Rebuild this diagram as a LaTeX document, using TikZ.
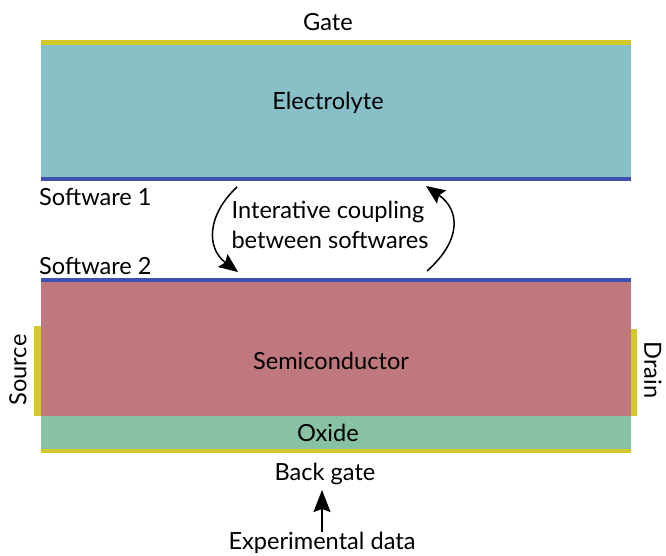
\documentclass[tikz,border=0pt]{standalone}
\usepackage{fontspec}
\setmainfont{Lato}
\usetikzlibrary{arrows.meta}
\definecolor{gatey}{HTML}{D4C92A}
\definecolor{elec}{HTML}{88C0C8}
\definecolor{swblue}{HTML}{3F51B0}
\definecolor{semi}{HTML}{BF787E}
\definecolor{oxid}{HTML}{88C2A5}
\begin{document}
\begin{tikzpicture}[x=1pt,y=-1pt,
  lbl/.style={font=\fontsize{23.6}{28}\selectfont, inner sep=0pt, text=black},
  layer/.style={draw=none, inner sep=0pt, minimum width=590pt},
  metal/.style={fill=gatey, draw=none, inner sep=0pt},
  swline/.style={fill=swblue, draw=none, inner sep=0pt, minimum width=590pt, minimum height=4pt},
  arr/.style={line width=1.5pt, -{Stealth[length=19pt,width=16pt,inset=3pt]}}]
\useasboundingbox (0,0) rectangle (666,555);
% gate
\node[lbl] (gatelbl) at (328,22) {Gate};
\node[metal, minimum width=590pt, minimum height=5pt] (gate) at (336,42) {};
\node[layer, fill=elec, minimum height=133pt] (elec) at (336,111.5) {};
\node[lbl] (eleclbl) at (328,103) {Electrolyte};
\node[swline] (sw1) at (336,179) {};
\node[lbl, anchor=west] (sw1lbl) at (39,197) {Software 1};
\node[lbl, anchor=west] (sw2lbl) at (39,266) {Software 2};
\node[swline] (sw2) at (336,280) {};
\node[layer, fill=semi, minimum height=134pt] (semi) at (336,349) {};
\node[lbl] (semilbl) at (331,361) {Semiconductor};
\node[layer, fill=oxid, minimum height=33pt] (oxide) at (336,432.5) {};
\node[lbl] (oxlbl) at (328,433) {Oxide};
\node[metal, minimum width=590pt, minimum height=4pt] (bgate) at (336,450.5) {};
\node[lbl] (bglbl) at (325,474) {Back gate};
\node[lbl] (exp) at (322,543) {Experimental data};
% source / drain
\node[metal, minimum width=7pt, minimum height=90pt] (src) at (37.5,371) {};
\node[metal, minimum width=6pt, minimum height=87pt] (drn) at (634,372.5) {};
\node[lbl, rotate=90] (srclbl) at (18,370) {Source};
\node[lbl, rotate=-90] (drnlbl) at (653,370) {Drain};
% coupling text
\node[lbl] (coup1) at (328,212) {Interative coupling};
\node[lbl] (coup2) at (330,240) {between softwares};
% arrows
\coordinate (l1) at (237,187);
\coordinate (l2) at (238,272);
\coordinate (r1) at (427,271);
\coordinate (r2) at (426,186);
\draw[arr] (l1) .. controls (207,215) and (206,248) .. (l2);
\draw[arr] (r1) .. controls (462,240) and (460,210) .. (r2);
\coordinate (e1) at (322,532);
\coordinate (e2) at (322,490);
\draw[arr, line width=1.4pt, -{Stealth[length=22pt,width=17pt,inset=3pt]}] (e1) -- (e2);
\end{tikzpicture}
\end{document}
